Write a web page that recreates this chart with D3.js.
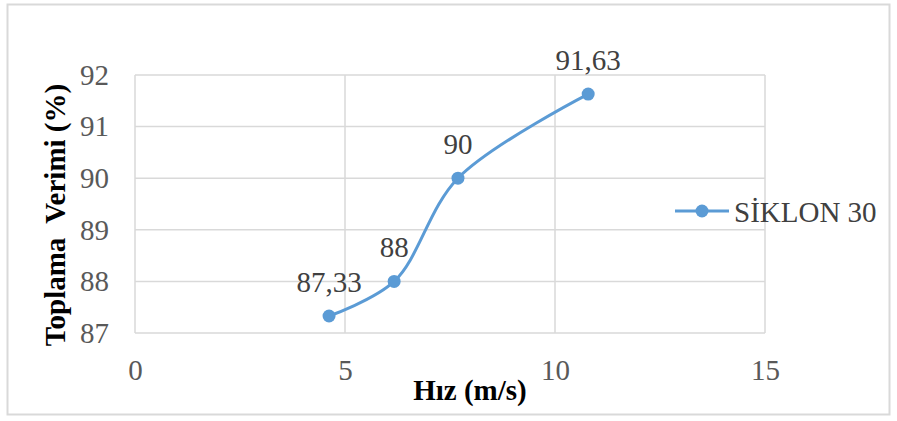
<!DOCTYPE html>
<html><head><meta charset="utf-8">
<script src="https://cdn.jsdelivr.net/npm/d3@7"></script>
<style>body{margin:0;background:#fff}svg{display:block}svg text{font-family:"Liberation Serif",serif}</style>
</head><body>
<svg id="c" width="897" height="421"></svg>
<script>
const speeds = [4.62, 6.17, 7.69, 10.79];
const efficiency = [87.33, 88, 90, 91.63];
const pointLabels = ["87,33", "88", "90", "91,63"];
const xTicks = [0, 5, 10, 15];
const yTicks = [87, 88, 89, 90, 91, 92];
const seriesName = "SİKLON 30";
const xTitle = "Hız (m/s)";
const yTitle = "Toplama  Verimi (%)";

const svg = d3.select("#c");
const font = "Liberation Serif, serif";
const blue = "#5b9bd5";
const grid = "#d9d9d9";
const fs = "29px";

svg.append("rect").attr("x", 7.5).attr("y", 4.5).attr("width", 882).attr("height", 410)
  .attr("fill", "#fff").attr("stroke", grid).attr("stroke-width", 2);

const x = d3.scaleLinear().domain([0, 15]).range([135, 765]);
const y = d3.scaleLinear().domain([87, 92]).range([333, 75]);

// gridlines
svg.append("g").selectAll("line").data(yTicks).join("line")
  .attr("x1", x(0)).attr("x2", x(15)).attr("y1", d => y(d)).attr("y2", d => y(d))
  .attr("stroke", grid).attr("stroke-width", 1.5);
svg.append("g").selectAll("line").data(xTicks).join("line")
  .attr("x1", d => x(d)).attr("x2", d => x(d)).attr("y1", y(87)).attr("y2", y(92))
  .attr("stroke", grid).attr("stroke-width", 1.5);

// axes (labels only)
const xAxis = svg.append("g").attr("transform", `translate(0,${y(87)})`)
  .call(d3.axisBottom(x).tickValues(xTicks).tickSize(0).tickPadding(26).tickFormat(d3.format("d")));
const yAxis = svg.append("g").attr("transform", `translate(${x(0)},0)`)
  .call(d3.axisLeft(y).tickValues(yTicks).tickSize(0).tickPadding(26).tickFormat(d3.format("d")));
[xAxis, yAxis].forEach(a => {
  a.attr("font-family", null).attr("font-size", null);
  a.select(".domain").remove();
  a.selectAll("text").style("font-family", font).style("font-size", fs).attr("fill", "#595959");
});

// line
const pts = speeds.map((s, i) => [s, efficiency[i]]);
const line = d3.line().x(d => x(d[0])).y(d => y(d[1])).curve(d3.curveCatmullRom.alpha(0.5));
svg.append("path").datum(pts).attr("d", line).attr("fill", "none")
  .attr("stroke", blue).attr("stroke-width", 3).attr("stroke-linecap", "round");
svg.append("g").selectAll("circle").data(pts).join("circle")
  .attr("cx", d => x(d[0])).attr("cy", d => y(d[1])).attr("r", 6.5).attr("fill", blue);

// data labels
svg.append("g").selectAll("text").data(pts).join("text")
  .attr("x", d => x(d[0])).attr("y", d => y(d[1]) - 24)
  .attr("text-anchor", "middle").style("font-family", font).style("font-size", fs)
  .attr("fill", "#404040").text((d, i) => pointLabels[i]);

// legend
svg.append("line").attr("x1", 675).attr("x2", 729).attr("y1", 211).attr("y2", 211)
  .attr("stroke", blue).attr("stroke-width", 3);
svg.append("circle").attr("cx", 702).attr("cy", 211).attr("r", 6.5).attr("fill", blue);
svg.append("text").attr("x", 734).attr("y", 222).style("font-family", font).style("font-size", fs)
  .attr("fill", "#404040").text(seriesName);

// titles
svg.append("text").attr("x", 470).attr("y", 400).attr("text-anchor", "middle")
  .style("font-family", font).style("font-size", fs).attr("font-weight", "bold").attr("fill", "#000")
  .text(xTitle);
svg.append("text").attr("transform", "translate(65,215) rotate(-90)").attr("text-anchor", "middle")
  .style("font-family", font).style("font-size", fs).attr("font-weight", "bold").attr("fill", "#000")
  .style("white-space", "pre")
  .text(yTitle);
</script>
</body></html>
